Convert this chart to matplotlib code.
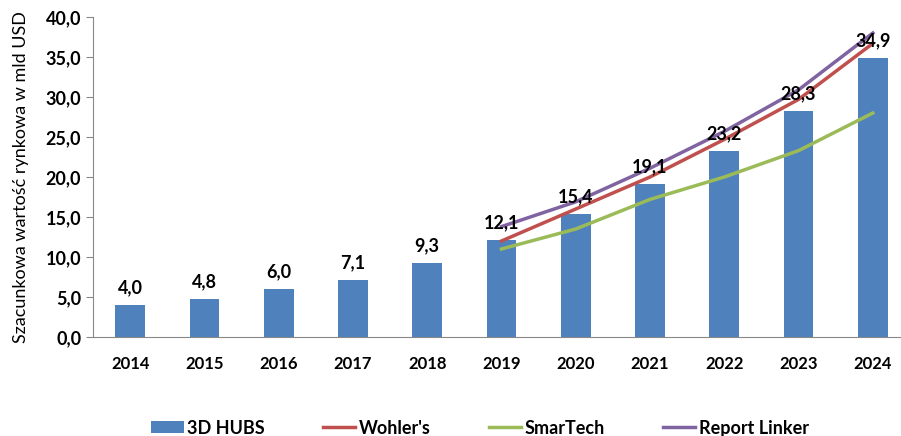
import numpy as np
import matplotlib.pyplot as plt
from matplotlib.ticker import MultipleLocator, FuncFormatter

plt.rcParams["font.family"] = ["Lato", "DejaVu Sans"]

years = ["2014", "2015", "2016", "2017", "2018", "2019", "2020", "2021", "2022", "2023", "2024"]
hubs = [4.0, 4.8, 6.0, 7.1, 9.3, 12.1, 15.4, 19.1, 23.2, 28.3, 34.9]

# forecasts only from 2019 onwards
forecast_years = ["2019", "2020", "2021", "2022", "2023", "2024"]
wohlers = [12.0, 16.0, 20.0, 24.7, 29.7, 36.7]
smartech = [11.0, 13.5, 17.2, 20.0, 23.3, 28.0]
report_linker = [13.8, 16.9, 21.1, 25.7, 30.9, 38.0]

BLUE = "#4F81BD"
RED = "#C0504D"
GREEN = "#9BBB59"
PURPLE = "#8064A2"

fig = plt.figure(figsize=(9.01, 4.36), dpi=100)
ax = fig.add_axes([93 / 901, 1 - 337 / 436, (910 - 93) / 901, 320 / 436])

x = np.arange(len(years))
xf = np.array([years.index(y) for y in forecast_years])

bars = ax.bar(x, hubs, width=0.4, color=BLUE, label="3D HUBS", zorder=2)
l1, = ax.plot(xf, wohlers, color=RED, lw=2.5, label="Wohler's", zorder=3)
l2, = ax.plot(xf, smartech, color=GREEN, lw=2.5, label="SmarTech", zorder=3)
l3, = ax.plot(xf, report_linker, color=PURPLE, lw=2.5, label="Report Linker", zorder=3)

for xi, v in zip(x, hubs):
    ax.text(xi, v + 1.1, f"{v:.1f}".replace(".", ","), ha="center", va="bottom",
            fontsize=13, fontweight="bold", zorder=4)

ax.set_xlim(-0.5, len(years) - 0.5)
ax.set_ylim(0, 40)
ax.yaxis.set_major_locator(MultipleLocator(5))
ax.yaxis.set_major_formatter(FuncFormatter(lambda v, p: f"{v:.1f}".replace(".", ",")))
ax.set_xticks(x)
ax.set_xticklabels(years)
ax.tick_params(axis="x", length=0, pad=14, labelsize=12)
ax.tick_params(axis="y", length=5, color="#888888", labelsize=13)
for lab in ax.get_xticklabels() + ax.get_yticklabels():
    lab.set_fontweight("bold")

for s in ["top", "right"]:
    ax.spines[s].set_visible(False)
ax.spines["left"].set_color("#888888")
ax.spines["bottom"].set_color("#888888")

ax.set_ylabel("Szacunkowa wartość rynkowa w mld USD", fontsize=13, labelpad=12)

fig.legend([bars, l1, l2, l3], ["3D HUBS", "Wohler's", "SmarTech", "Report Linker"],
           loc="center", bbox_to_anchor=(480 / 901, 1 - 428 / 436), ncol=4,
           frameon=False, handlelength=1.8, handleheight=0.6, handletextpad=0.2,
           columnspacing=3.2, prop={"weight": "bold", "size": 13})

fig.savefig("out.png", dpi=100)
